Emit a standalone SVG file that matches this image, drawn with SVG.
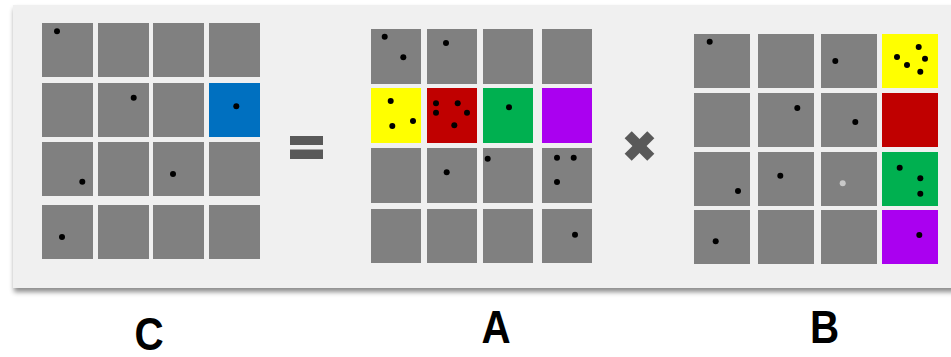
<svg xmlns="http://www.w3.org/2000/svg" width="951" height="357" viewBox="0 0 951 357">
<defs>
<filter id="sh" x="-5%" y="-5%" width="115%" height="125%">
<feDropShadow dx="1" dy="4" stdDeviation="2.5" flood-color="#000" flood-opacity="0.45"/>
</filter>
</defs>
<style>
.g{fill:#808080}
.bl{fill:#0070C0}
.ye{fill:#FFFF00}
.rd{fill:#C00000}
.gr{fill:#00B050}
.pu{fill:#AA00F0}
.d{fill:#000}
.lt{fill:#C8C8C8}
.op{fill:#595959}
.lbl{font-family:"Liberation Sans",Arial,sans-serif;font-weight:bold;font-size:47px;fill:#000;text-anchor:middle}
</style>
<rect x="13" y="5" width="950" height="283" fill="#F0F0F0" filter="url(#sh)"/>

<g id="matrixC">
<rect class="g" x="42" y="23" width="51" height="54"/>
<rect class="g" x="98" y="23" width="51" height="54"/>
<rect class="g" x="153" y="23" width="51" height="54"/>
<rect class="g" x="209" y="23" width="51" height="54"/>
<rect class="g" x="42" y="83" width="51" height="54"/>
<rect class="g" x="98" y="83" width="51" height="54"/>
<rect class="g" x="153" y="83" width="51" height="54"/>
<rect class="bl" x="209" y="83" width="51" height="54"/>
<rect class="g" x="42" y="142" width="51" height="54"/>
<rect class="g" x="98" y="142" width="51" height="54"/>
<rect class="g" x="153" y="142" width="51" height="54"/>
<rect class="g" x="209" y="142" width="51" height="54"/>
<rect class="g" x="42" y="205" width="51" height="54"/>
<rect class="g" x="98" y="205" width="51" height="54"/>
<rect class="g" x="153" y="205" width="51" height="54"/>
<rect class="g" x="209" y="205" width="51" height="54"/>
<circle class="d" cx="57" cy="31.3" r="3"/>
<circle class="d" cx="133.7" cy="97.7" r="3"/>
<circle class="d" cx="236.3" cy="106.3" r="3"/>
<circle class="d" cx="82.3" cy="181.7" r="3"/>
<circle class="d" cx="173" cy="174" r="3"/>
<circle class="d" cx="62" cy="237" r="3"/>
</g>

<g id="equals">
<rect class="op" x="290" y="136" width="33" height="9"/>
<rect class="op" x="290" y="149.5" width="33" height="9.5"/>
</g>

<g id="matrixA">
<rect class="g" x="371" y="29" width="50" height="55"/>
<rect class="g" x="427" y="29" width="50" height="55"/>
<rect class="g" x="483" y="29" width="50" height="55"/>
<rect class="g" x="542" y="29" width="50" height="55"/>
<rect class="ye" x="371" y="88" width="50" height="55"/>
<rect class="rd" x="427" y="88" width="50" height="55"/>
<rect class="gr" x="483" y="88" width="50" height="55"/>
<rect class="pu" x="542" y="88" width="50" height="55"/>
<rect class="g" x="371" y="148" width="50" height="55"/>
<rect class="g" x="427" y="148" width="50" height="55"/>
<rect class="g" x="483" y="148" width="50" height="55"/>
<rect class="g" x="542" y="148" width="50" height="55"/>
<rect class="g" x="371" y="209" width="50" height="54"/>
<rect class="g" x="427" y="209" width="50" height="54"/>
<rect class="g" x="483" y="209" width="50" height="54"/>
<rect class="g" x="542" y="209" width="50" height="54"/>
<circle class="d" cx="384.7" cy="36.7" r="3"/>
<circle class="d" cx="403.3" cy="57.3" r="3"/>
<circle class="d" cx="446" cy="43" r="3"/>
<circle class="d" cx="390.7" cy="101" r="3"/>
<circle class="d" cx="413" cy="121" r="3"/>
<circle class="d" cx="392.3" cy="126" r="3"/>
<circle class="d" cx="436" cy="103.3" r="3"/>
<circle class="d" cx="457.7" cy="103.3" r="3"/>
<circle class="d" cx="436" cy="112.7" r="3"/>
<circle class="d" cx="467" cy="112.7" r="3"/>
<circle class="d" cx="454.3" cy="125.3" r="3"/>
<circle class="d" cx="509" cy="107.3" r="3"/>
<circle class="d" cx="446.7" cy="172.3" r="3"/>
<circle class="d" cx="487.7" cy="158.7" r="3"/>
<circle class="d" cx="557" cy="157.7" r="3"/>
<circle class="d" cx="573.7" cy="157.7" r="3"/>
<circle class="d" cx="557" cy="182" r="3"/>
<circle class="d" cx="575" cy="234.7" r="3"/>
</g>

<g id="times" transform="translate(639.5 146) rotate(45)">
<rect class="op" x="-16" y="-5" width="32" height="10"/>
<rect class="op" x="-5" y="-16" width="10" height="32"/>
</g>

<g id="matrixB">
<rect class="g" x="694" y="34" width="56" height="54"/>
<rect class="g" x="758" y="34" width="56" height="54"/>
<rect class="g" x="821" y="34" width="56" height="54"/>
<rect class="ye" x="882" y="34" width="56" height="54"/>
<rect class="g" x="694" y="93" width="56" height="54"/>
<rect class="g" x="758" y="93" width="56" height="54"/>
<rect class="g" x="821" y="93" width="56" height="54"/>
<rect class="rd" x="882" y="93" width="56" height="54"/>
<rect class="g" x="694" y="152" width="56" height="54"/>
<rect class="g" x="758" y="152" width="56" height="54"/>
<rect class="g" x="821" y="152" width="56" height="54"/>
<rect class="gr" x="882" y="152" width="56" height="54"/>
<rect class="g" x="694" y="210" width="56" height="54"/>
<rect class="g" x="758" y="210" width="56" height="54"/>
<rect class="g" x="821" y="210" width="56" height="54"/>
<rect class="pu" x="882" y="210" width="56" height="54"/>
<circle class="d" cx="709.7" cy="41.7" r="3"/>
<circle class="d" cx="835.3" cy="61" r="3"/>
<circle class="d" cx="918.7" cy="47" r="3"/>
<circle class="d" cx="897" cy="57" r="3"/>
<circle class="d" cx="925" cy="58.7" r="3"/>
<circle class="d" cx="907" cy="65" r="3"/>
<circle class="d" cx="920.3" cy="71.7" r="3"/>
<circle class="d" cx="797.3" cy="108" r="3"/>
<circle class="d" cx="855.3" cy="122" r="3"/>
<circle class="d" cx="738" cy="191" r="3"/>
<circle class="d" cx="780.3" cy="175.7" r="3"/>
<circle class="lt" cx="842.7" cy="183.3" r="3"/>
<circle class="d" cx="899.7" cy="167.7" r="3"/>
<circle class="d" cx="920.3" cy="178.3" r="3"/>
<circle class="d" cx="920.3" cy="193.7" r="3"/>
<circle class="d" cx="715.7" cy="241.3" r="3"/>
<circle class="d" cx="919.3" cy="235" r="3"/>
</g>

<g id="connectors"></g>

<g id="labels">
<text class="lbl" transform="translate(149 350) scale(0.86 1)">C</text>
<text class="lbl" transform="translate(496 343.3) scale(0.86 1)">A</text>
<text class="lbl" transform="translate(824.5 343.3) scale(0.86 1)">B</text>
</g>
</svg>
